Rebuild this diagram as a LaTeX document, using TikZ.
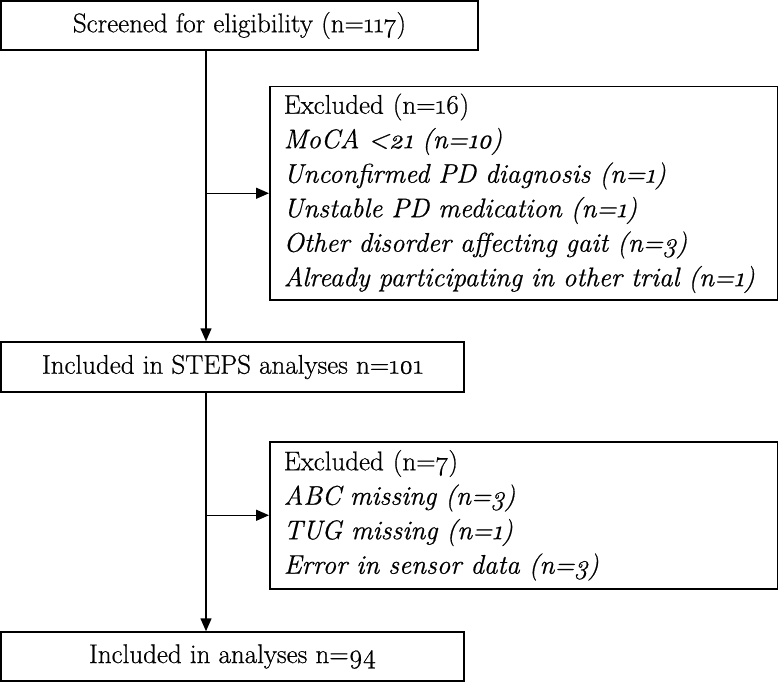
\documentclass[tikz,border=0pt]{standalone}
\usepackage{fontspec}
\setmainfont{Latin Modern Roman}[Numbers=OldStyle,UprightFeatures={FakeBold=0.6},ItalicFeatures={FakeBold=0.6}]
\usetikzlibrary{arrows.meta}
\tikzset{
box/.style={draw,line width=1.5pt,inner sep=0pt,font=\fontsize{27}{34.5}\selectfont},
excl/.style={box,anchor=north west,align=left,inner xsep=14pt,text width=480pt},
arr/.style={line width=1.5pt,-{Triangle[length=13pt,width=11pt]}}
}
\begin{document}
\begin{tikzpicture}[x=1pt,y=-1pt]
\useasboundingbox(0,0)rectangle(778,682);
\node[box,minimum width=477pt,minimum height=49pt](screen)at(239.5,25.5){Screened for eligibility (n=117)};
\node[excl,minimum height=213pt](excl1)at(269,86){Excluded (n=16)\\
\textit{MoCA <21 (n=10)}\\
\textit{Unconfirmed PD diagnosis (n=1)}\\
\textit{Unstable PD medication (n=1)}\\
\textit{Other disorder affecting gait (n=3)}\\
\textit{Already participating in other trial (n=1)}};
\node[box,minimum width=463pt,minimum height=50pt](steps)at(232.5,367){Included in STEPS analyses n=101};
\node[excl,minimum height=147pt](excl2)at(269,441){Excluded (n=7)\\
\textit{ABC missing (n=3)}\\
\textit{TUG missing (n=1)}\\
\textit{Error in sensor data (n=3)}};
\node[box,minimum width=463pt,minimum height=49pt](final)at(232.5,656.5){Included in analyses n=94};
\coordinate(spine)at(206,0);
\draw[arr](spine|-screen.south)--(spine|-steps.north);
\draw[arr](spine|-excl1.west)--(excl1.west);
\draw[arr](spine|-steps.south)--(spine|-final.north);
\draw[arr](spine|-excl2.west)--(excl2.west);
\end{tikzpicture}
\end{document}
